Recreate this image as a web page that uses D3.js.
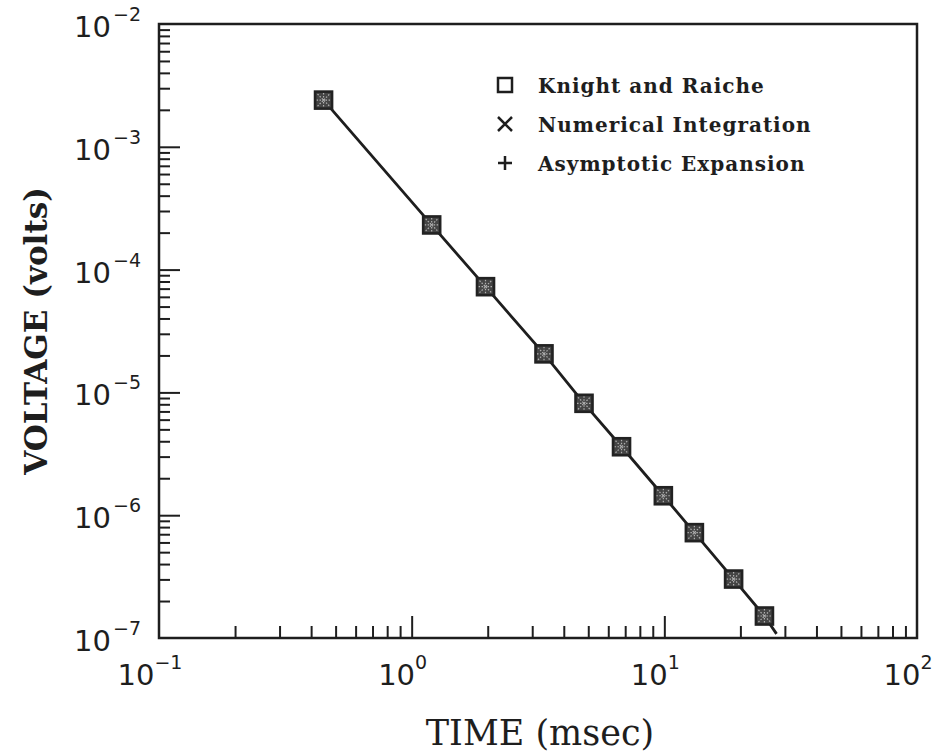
<!DOCTYPE html>
<html>
<head>
<meta charset="utf-8">
<script src="https://cdn.jsdelivr.net/npm/d3@7"></script>
<style>
  html, body { margin: 0; padding: 0; background: #fff; }
  svg { display: block; }
</style>
</head>
<body>
<svg id="chart" width="941" height="753"></svg>
<script>
// ---- data ----
const timeMs = [0.448, 1.2, 1.96, 3.34, 4.81, 6.77, 9.91, 13.15, 18.8, 24.9];
const voltage = [2.40e-3, 2.31e-4, 7.26e-5, 2.06e-5, 8.15e-6, 3.61e-6, 1.44e-6, 7.21e-7, 3.02e-7, 1.51e-7];
const lineTime = [0.448, 1.2, 1.96, 3.34, 4.81, 6.77, 9.91, 13.15, 18.8, 24.9, 27.8];
const lineVoltage = [2.40e-3, 2.31e-4, 7.26e-5, 2.06e-5, 8.15e-6, 3.61e-6, 1.44e-6, 7.21e-7, 3.02e-7, 1.51e-7, 1.08e-7];
const xExponents = ["-1", "0", "1", "2"];
const yExponents = ["-2", "-3", "-4", "-5", "-6", "-7"];
const legendLabels = ["Knight and Raiche", "Numerical Integration", "Asymptotic Expansion"];
const legendSymbols = ["square", "cross", "plus"];
const xTitle = "TIME (msec)";
const yTitle = "VOLTAGE (volts)";

// ---- layout ----
const svg = d3.select("#chart");
const L = 159, R = 917, T = 24, B = 638;
const ink = "#1e1e1e";

const x = d3.scaleLog().domain([0.1, 100]).range([L, R]);
const y = d3.scaleLog().domain([1e-7, 1e-2]).range([B, T]);

const isMajor = v => Math.abs(Math.log10(v) - Math.round(Math.log10(v))) < 1e-9;

// minor + major ticks via d3 axes (inside the frame)
const xMinor = x.ticks().filter(v => !isMajor(v));
const xMajor = x.ticks().filter(v => isMajor(v) && v > 0.1 && v < 100);
const yMinor = y.ticks().filter(v => !isMajor(v));
const yMajor = y.ticks().filter(v => isMajor(v) && v > 1e-7 && v < 1e-2);

function styleAxis(g) {
  g.select(".domain").remove();
  g.selectAll(".tick line").attr("stroke", ink).attr("stroke-width", 2);
  g.selectAll(".tick text").remove();
}
svg.append("g").attr("transform", `translate(0,${B})`)
  .call(d3.axisBottom(x).tickValues(xMinor).tickSize(-12).tickFormat("")).call(styleAxis);
svg.append("g").attr("transform", `translate(0,${B})`)
  .call(d3.axisBottom(x).tickValues(xMajor).tickSize(-22).tickFormat("")).call(styleAxis);
svg.append("g").attr("transform", `translate(${L},0)`)
  .call(d3.axisLeft(y).tickValues(yMinor).tickSize(-11).tickFormat("")).call(styleAxis);
svg.append("g").attr("transform", `translate(${L},0)`)
  .call(d3.axisLeft(y).tickValues(yMajor).tickSize(-21).tickFormat("")).call(styleAxis);

// frame
svg.append("rect").attr("x", L).attr("y", T).attr("width", R - L).attr("height", B - T)
  .attr("fill", "none").attr("stroke", ink).attr("stroke-width", 2.5);

// tick labels
const labFont = "'DejaVu Sans', sans-serif";
xExponents.forEach(e => {
  const v = Math.pow(10, +e);
  const t = svg.append("text")
    .attr("x", x(v) - 9).attr("y", 685)
    .attr("text-anchor", "middle")
    .attr("font-family", labFont).attr("font-size", 29).attr("fill", ink);
  t.append("tspan").text("10");
  t.append("tspan").attr("dy", -16).attr("font-size", 19)
    .text(e.replace("-", "\u2212"));
});
yExponents.forEach(e => {
  const v = Math.pow(10, +e);
  const t = svg.append("text")
    .attr("x", 141).attr("y", y(v) + 13)
    .attr("text-anchor", "end")
    .attr("font-family", labFont).attr("font-size", 29).attr("fill", ink);
  t.append("tspan").text("10");
  t.append("tspan").attr("dy", -16).attr("dx", 2).attr("font-size", 19)
    .text(e.replace("-", "\u2212"));
});

// axis titles
svg.append("text").attr("x", 540).attr("y", 745).attr("text-anchor", "middle")
  .attr("font-family", "'DejaVu Serif', serif").attr("font-size", 35).attr("fill", ink)
  .text(xTitle);
svg.append("text").attr("transform", "translate(47,331) rotate(-90)")
  .attr("text-anchor", "middle")
  .attr("font-family", "'DejaVu Serif', serif").attr("font-weight", "bold")
  .attr("font-size", 31).attr("fill", ink)
  .text(yTitle);

// curve
const line = d3.line().x((d, i) => x(lineTime[i])).y((d, i) => y(lineVoltage[i]));
svg.append("path").datum(lineTime).attr("d", line)
  .attr("fill", "none").attr("stroke", ink).attr("stroke-width", 2.8);

// symbols drawing helper
function drawSymbol(g, kind, s, sw, col) {
  if (kind === "square") {
    g.append("rect").attr("x", -s).attr("y", -s).attr("width", 2 * s).attr("height", 2 * s)
      .attr("fill", "none").attr("stroke", col).attr("stroke-width", sw);
  } else if (kind === "cross") {
    g.append("path").attr("d", `M${-s},${-s}L${s},${s}M${-s},${s}L${s},${-s}`)
      .attr("stroke", col).attr("stroke-width", sw).attr("fill", "none");
  } else {
    g.append("path").attr("d", `M${-s},0L${s},0M0,${-s}L0,${s}`)
      .attr("stroke", col).attr("stroke-width", sw).attr("fill", "none");
  }
}

// markers: the three coincident series overlaid
const pts = svg.append("g");
timeMs.forEach((t, i) => {
  const g = pts.append("g").attr("transform", `translate(${x(t)},${y(voltage[i])})`);
  g.append("rect").attr("x", -8.5).attr("y", -8.5).attr("width", 17).attr("height", 17)
    .attr("fill", "#444");
  g.append("path").attr("d", "M-6,-6L6,6M-6,6L6,-6M-7,0L7,0M0,-7L0,7")
    .attr("stroke", "#b0b0b0").attr("stroke-width", 1.2).attr("stroke-dasharray", "1.5,1.5");
  drawSymbol(g, "square", 8.5, 2.6, "#222");
});

// legend
const lg = svg.append("g");
legendLabels.forEach((lab, i) => {
  const cy = 85 + i * 39;
  const g = lg.append("g").attr("transform", `translate(505,${cy})`);
  drawSymbol(g, legendSymbols[i], 7, 2.5, ink);
  lg.append("text").attr("x", 538).attr("y", cy + 8)
    .attr("font-family", "'DejaVu Serif', serif")
    .attr("font-weight", "bold").attr("font-size", 20).attr("letter-spacing", 1)
    .attr("fill", ink)
    .text(lab);
});
</script>
</body>
</html>
